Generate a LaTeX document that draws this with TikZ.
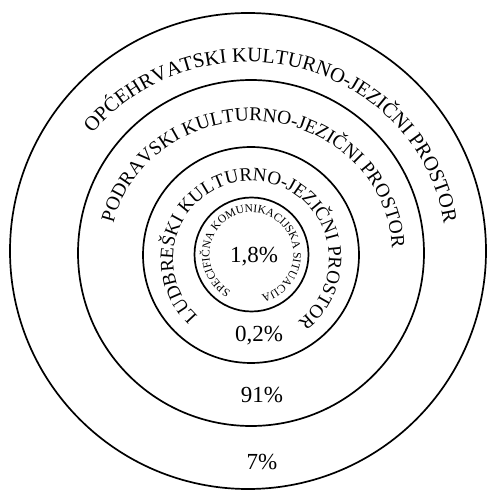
\documentclass[tikz,border=0pt]{standalone}
\usepackage{fontspec}
\setmainfont{Liberation Serif}
\usetikzlibrary{decorations.text}
\begin{document}
\begin{tikzpicture}[x=1pt,y=1pt,
  ring/.style={draw=black,line width=1.7pt},
  pct/.style={font=\fontsize{23}{23}\selectfont,inner sep=0pt},
  arctext/.style={decorate,decoration={text along path,text align=center,text={#1}}}]
\useasboundingbox[fill=white] (0,0) rectangle (488,491);
% centres
\coordinate (c1) at (248,240);
\coordinate (c2) at (251,238);
\coordinate (c3) at (251,236);
\coordinate (c4) at (251.5,236.5);
% circles
\draw[ring] (c1) circle[radius=238];
\draw[ring] (c2) circle[radius=173];
\draw[ring] (c3) circle[radius=108];
\draw[ring] (c4) circle[radius=57];
% curved labels
\path[arctext={|\fontsize{20.5}{20.5}\selectfont|OPĆEHRVATSKI KULTURNO-JEZIČNI PROSTOR}]
  (c1) ++(150:198 and 189) arc[start angle=150,end angle=0,x radius=198,y radius=189];
\path[arctext={|\fontsize{19.5}{19.5}\selectfont|PODRAVSKI KULTURNO-JEZIČNI PROSTOR}]
  (c2) ++(175:141 and 132) arc[start angle=175,end angle=-6,x radius=141,y radius=132];
\coordinate (c3t) at (251,232);
\path[arctext={|\fontsize{19}{19}\selectfont|LUDBREŠKI KULTURNO-JEZIČNI PROSTOR}]
  (c3t) ++(237:78) arc[start angle=237,end angle=-63,radius=78];
\path[arctext={|\fontsize{11.5}{11.5}\selectfont|SPECIFIČNA KOMUNIKACIJSKA SITUACIJA}]
  (c4) ++(254:42) arc[start angle=254,end angle=-90,radius=42];
% percentages
\node[pct] (p1) at (254,234) {1,8\%};
\node[pct] (p2) at (259,155) {0,2\%};
\node[pct] (p3) at (262,96) {91\%};
\node[pct] (p4) at (262,29) {7\%};
\end{tikzpicture}
\end{document}
